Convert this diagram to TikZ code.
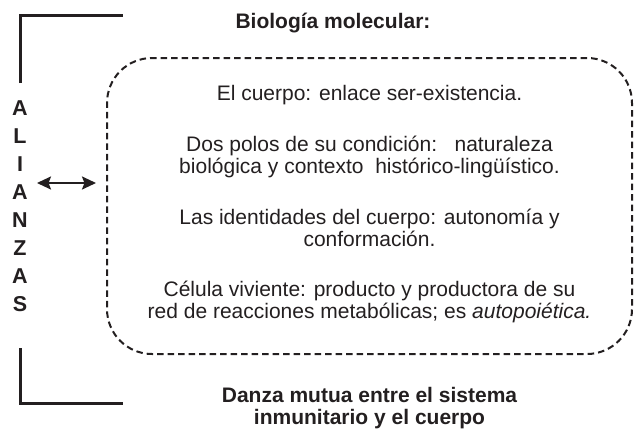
\documentclass[tikz,border=0pt]{standalone}
\usepackage{fontspec}
\setmainfont{Liberation Sans}
\usetikzlibrary{arrows.meta}
\definecolor{ink}{HTML}{231F20}
\begin{document}
\begin{tikzpicture}[x=1pt,y=-1pt,
  body/.style={font=\fontsize{21}{22}\selectfont, anchor=base, inner sep=0pt, text=ink},
  head/.style={font=\fontsize{21}{22}\selectfont\bfseries, anchor=base, inner sep=0pt, text=ink},
  letter/.style={font=\fontsize{21.5}{22}\selectfont\bfseries, inner sep=0pt, text=ink},
  bracket/.style={line width=3pt, draw=ink},
  dashbox/.style={draw=ink, line width=2pt, dash pattern=on 6.5pt off 4pt, rounded corners=45pt,
    minimum width=525pt, minimum height=296pt, inner sep=0pt},
  link/.style={line width=2.2pt, draw=ink,
    {Stealth[length=14pt,width=13pt,inset=2.5pt]}-{Stealth[length=14pt,width=13pt,inset=2.5pt]}}
]
\useasboundingbox (0,0) rectangle (634,431);

% brackets
\coordinate (tl1) at (20,83);
\coordinate (tl2) at (123,15);
\coordinate (bl1) at (20,348);
\coordinate (bl2) at (123,403);
\draw[bracket] (tl1) |- (tl2);
\draw[bracket] (bl1) |- (bl2);

% vertical word
\node[letter] (l1) at (20,108) {A};
\node[letter] (l2) at (20,136) {L};
\node[letter] (l3) at (20,164) {I};
\node[letter] (l4) at (20,192) {A};
\node[letter] (l5) at (20,220) {N};
\node[letter] (l6) at (20,248) {Z};
\node[letter] (l7) at (20,276) {A};
\node[letter] (l8) at (20,304) {S};

% dashed box
\node[dashbox] (box) at (369.5,206) {};

% double arrow
\coordinate (aL) at (37,183);
\coordinate (aR) at (96,183);
\draw[link] (aL) -- (aR);

% title
\node[head] (title) at (333,28) {Biología molecular:};

% body text
\node[body] (t1) at (369.5,100) {El cuerpo: enlace ser-existencia.};
\node[body] (t2a) at (369.5,151) {Dos polos de su condición:\ \ \ naturaleza};
\node[body] (t2b) at (369.5,173) {biológica y contexto\ \ histórico-lingüístico.};
\node[body] (t3a) at (369.5,224) {Las identidades del cuerpo: autonomía y};
\node[body] (t3b) at (369.5,246) {conformación.};
\node[body] (t4a) at (369.5,296) {Célula viviente: producto y productora de su};
\node[body] (t4b) at (369.5,318) {red de reacciones metabólicas; es \textit{autopoiética.}};

% bottom caption
\node[head] (cap1) at (369.5,402) {Danza mutua entre el sistema};
\node[head] (cap2) at (369.5,424) {inmunitario y el cuerpo};
\end{tikzpicture}
\end{document}
